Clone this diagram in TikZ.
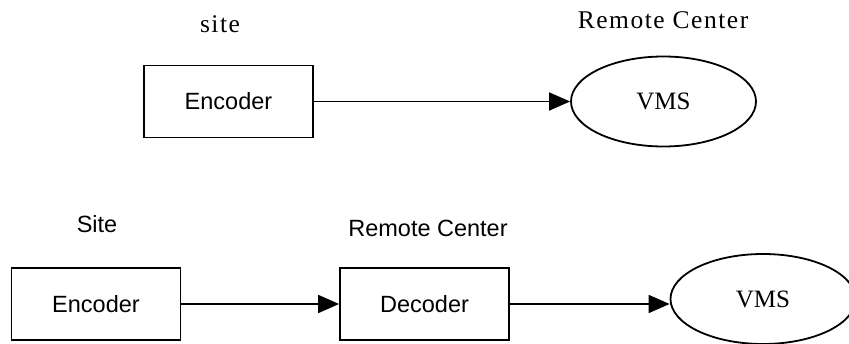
\documentclass[tikz,border=0pt]{standalone}
\usepackage{fontspec}
\usetikzlibrary{shapes.geometric,arrows.meta}
\newfontfamily\sansf{Liberation Sans}
\newfontfamily\seriflab[LetterSpace=6]{Liberation Serif}
\newfontfamily\serifv{Liberation Serif}
\tikzset{
  boxnode/.style={draw, line width=1.8pt, rectangle, minimum width=169pt, minimum height=72pt, inner sep=0pt, font=\sansf\fontsize{23.5}{28}\selectfont},
  ellnode/.style={draw, line width=1.8pt, ellipse, minimum width=185pt, minimum height=90pt, inner sep=0pt, font=\serifv\fontsize{25}{30}\selectfont},
  seriflabel/.style={anchor=base, inner sep=0pt, font=\seriflab\fontsize{25.5}{30}\selectfont},
  sanslabel/.style={anchor=base, inner sep=0pt, font=\sansf\fontsize{23.5}{28}\selectfont},
  arr/.style={line width=1.8pt, -{Triangle[length=21pt,width=18pt]}}
}
\begin{document}
\begin{tikzpicture}[x=1pt,y=-1pt]
\useasboundingbox (0,0) rectangle (849,344);
% top
\node[seriflabel] (lsite) at (220,33) {site};
\node[seriflabel] (lrc) at (663,29) {Remote Center};
\node[boxnode] (enc1) at (228.5,101.5) {Encoder};
\node[ellnode] (vms1) at (663.5,101.5) {VMS};
\draw[arr] (enc1.east) -- (vms1.west);
% bottom
\node[sanslabel] (lsite2) at (97,233) {Site};
\node[sanslabel] (lrc2) at (428,237) {Remote Center};
\node[boxnode] (enc2) at (96,304) {Encoder};
\node[boxnode] (dec) at (424.5,304) {Decoder};
\node[ellnode] (vms2) at (763,299) {VMS};
\draw[arr] (enc2.east) -- (dec.west);
\draw[arr] (dec.east) -- (dec.east -| vms2.west);
\end{tikzpicture}
\end{document}
